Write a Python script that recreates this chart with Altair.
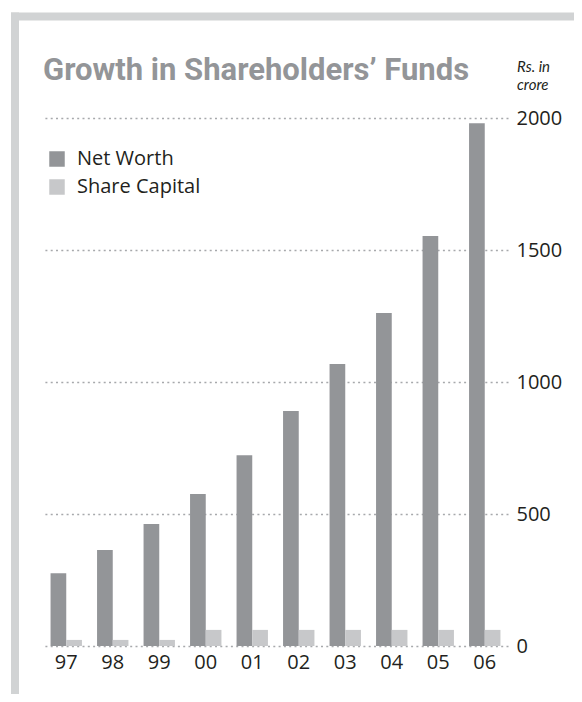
import altair as alt
import pandas as pd

years = ["97", "98", "99", "00", "01", "02", "03", "04", "05", "06"]
net_worth = [276, 364, 462, 576, 723, 890, 1068, 1261, 1553, 1980]
share_capital = [23, 23, 23, 61, 61, 61, 61, 61, 61, 61]
series = ["Net Worth", "Share Capital"]
series_colors = ["#939598", "#c7c8ca"]
y_ticks = [0, 500, 1000, 1500, 2000]
title_text = "Growth in Shareholders\u2019 Funds"
unit_text = ["Rs. in", "crore"]

rows = []
for i, yr in enumerate(years):
    rows.append({"year": yr, "series": series[0], "value": net_worth[i]})
    rows.append({"year": yr, "series": series[1], "value": share_capital[i]})
df = pd.DataFrame(rows)

W, H = 465, 528
TEXT = "#231f20"
FONT = "Open Sans"

bars = alt.Chart(df).mark_bar().encode(
    x=alt.X(
        "year:N",
        sort=years,
        scale=alt.Scale(paddingInner=0.325, paddingOuter=0.1625),
        axis=alt.Axis(
            title=None, labelAngle=0, ticks=False, domain=False, grid=False,
            labelFont=FONT, labelFontSize=20, labelColor=TEXT, labelPadding=6,
        ),
    ),
    xOffset=alt.XOffset("series:N", sort=series,
                        scale=alt.Scale(paddingInner=0, paddingOuter=0)),
    y=alt.Y(
        "value:Q",
        scale=alt.Scale(domain=[0, 2000], nice=False),
        axis=alt.Axis(
            orient="right", values=y_ticks, title=None, ticks=False, domain=False,
            grid=True, gridDash=[2, 3.3], gridColor="#a7a9ac", gridWidth=1.7,
            labelFont=FONT, labelFontSize=20, labelColor=TEXT, labelPadding=8,
            labelAlign="left", labelBaseline="middle", labelFlush=False, format="d",
        ),
    ),
    color=alt.Color(
        "series:N",
        sort=series,
        scale=alt.Scale(domain=series, range=series_colors),
        legend=alt.Legend(
            orient="none", legendX=4, legendY=31, title=None, direction="vertical",
            symbolType="square", symbolSize=240, symbolStrokeWidth=0,
            labelFont=FONT, labelFontSize=20, labelColor=TEXT, labelOffset=10,
            rowPadding=8, padding=0,
        ),
    ),
)

dummy = pd.DataFrame({"k": [0]})

top_stripe = alt.Chart(dummy).mark_rect(color="#d1d3d4").encode(
    x=alt.value(-32), x2=alt.value(W + 66), y=alt.value(-105.5), y2=alt.value(-97.5)
)
left_stripe = alt.Chart(dummy).mark_rect(color="#d1d3d4").encode(
    x=alt.value(-32), x2=alt.value(-24), y=alt.value(-105.5), y2=alt.value(H + 48)
)

title = alt.Chart(dummy).mark_text(
    text=title_text, font="Roboto", fontWeight="bold", fontSize=31,
    color="#939598", align="left", baseline="alphabetic",
).encode(x=alt.value(0), y=alt.value(-38))

unit_line1 = alt.Chart(dummy).mark_text(
    text=unit_text[0], font="Lato", fontStyle="italic", fontSize=15,
    color=TEXT, align="left", baseline="alphabetic",
).encode(x=alt.value(W + 9), y=alt.value(-46))

unit_line2 = alt.Chart(dummy).mark_text(
    text=unit_text[1], font="Lato", fontStyle="italic", fontSize=15,
    color=TEXT, align="left", baseline="alphabetic",
).encode(x=alt.value(W + 9), y=alt.value(-28))

chart = alt.layer(top_stripe, left_stripe, bars, title, unit_line1, unit_line2).properties(
    width=W, height=H,
    autosize=alt.AutoSizeParams(type="none"),
    padding={"left": 35, "top": 110, "right": 66, "bottom": 48},
    background="white",
).configure_view(stroke=None)

chart.save("out.html", embed_options={"renderer": "svg", "actions": False})
